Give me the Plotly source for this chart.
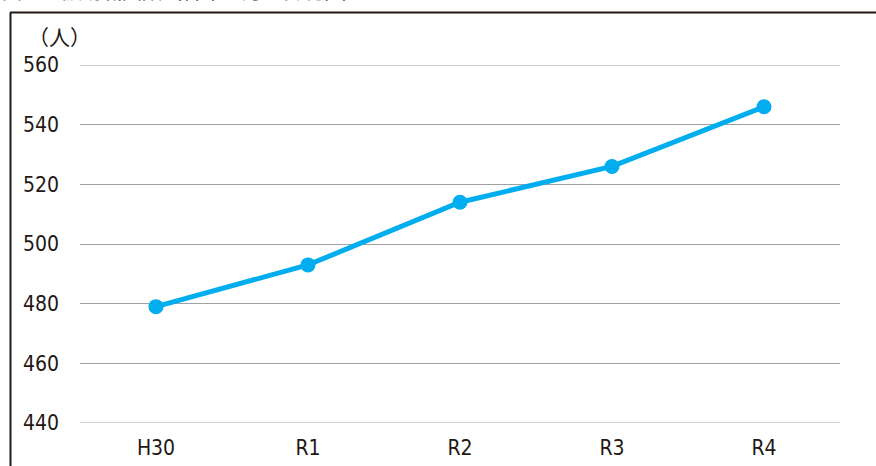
import plotly.graph_objects as go

categories = ["H30", "R1", "R2", "R3", "R4"]
values = [479, 493, 514, 526, 546]
y_ticks = [440, 460, 480, 500, 520, 540, 560]

W, H = 876, 466
L, R, T, B = 80, 36, 65, 43
pw = W - L - R
ph = H - T - B

def px_x(px):
    return (px - L) / pw

def px_y(py):
    return 1 - (py - T) / ph

FONT = "DejaVu Sans Condensed, Liberation Sans Narrow, Roboto, sans-serif"
TXT = "#231815"
GRID = "#A0A0A0"
tick_font = dict(family=FONT, size=21, color=TXT)

fig = go.Figure(go.Scatter(
    x=categories, y=values, mode="lines+markers",
    line=dict(color="#00AEEF", width=5),
    marker=dict(color="#00AEEF", size=15),
    cliponaxis=False,
    hoverinfo="skip",
))

edge_grids = [
    dict(type="line", xref="paper", yref="y", x0=0, x1=1, y0=v, y1=v,
         line=dict(color=GRID, width=1), layer="below")
    for v in (y_ticks[0], y_ticks[-1])
]

fig.update_layout(
    width=W, height=H,
    margin=dict(l=L, r=R, t=T, b=B),
    paper_bgcolor="white", plot_bgcolor="white",
    showlegend=False,
    font=dict(family=FONT, size=21, color=TXT),
    xaxis=dict(type="category", range=[-0.5, 4.5], showgrid=False, showline=False,
               zeroline=False, ticks="", ticklabelstandoff=10, tickfont=tick_font,
               automargin=False),
    yaxis=dict(range=[y_ticks[0], y_ticks[-1]], tickvals=y_ticks, showgrid=True,
               gridcolor=GRID, gridwidth=1, zeroline=False, showline=False, ticks="",
               ticklabelstandoff=20, tickfont=tick_font, automargin=False),
    shapes=edge_grids + [
        dict(type="line", xref="paper", yref="paper", x0=px_x(10), x1=px_x(880),
             y0=px_y(12.5), y1=px_y(12.5), line=dict(color=TXT, width=2)),
        dict(type="line", xref="paper", yref="paper", x0=px_x(10.5), x1=px_x(10.5),
             y0=px_y(12.5), y1=px_y(470), line=dict(color=TXT, width=2)),
    ],
    annotations=[
        dict(text="（人）", xref="paper", yref="paper", x=px_x(26), y=px_y(36),
             xanchor="left", yanchor="middle", showarrow=False,
             font=dict(family="Noto Sans CJK JP", size=21, color=TXT)),
        dict(text="図１　援助職員数（各年４月１日現在）", xref="paper", yref="paper",
             x=px_x(0), y=px_y(7), xanchor="left", yanchor="bottom", showarrow=False,
             font=dict(family="Noto Sans CJK JP", size=20, color=TXT)),
    ],
)

fig.write_html("out.html", config={"displayModeBar": False},
               post_script="document.body.style.margin='0';document.body.style.overflow='hidden';")
